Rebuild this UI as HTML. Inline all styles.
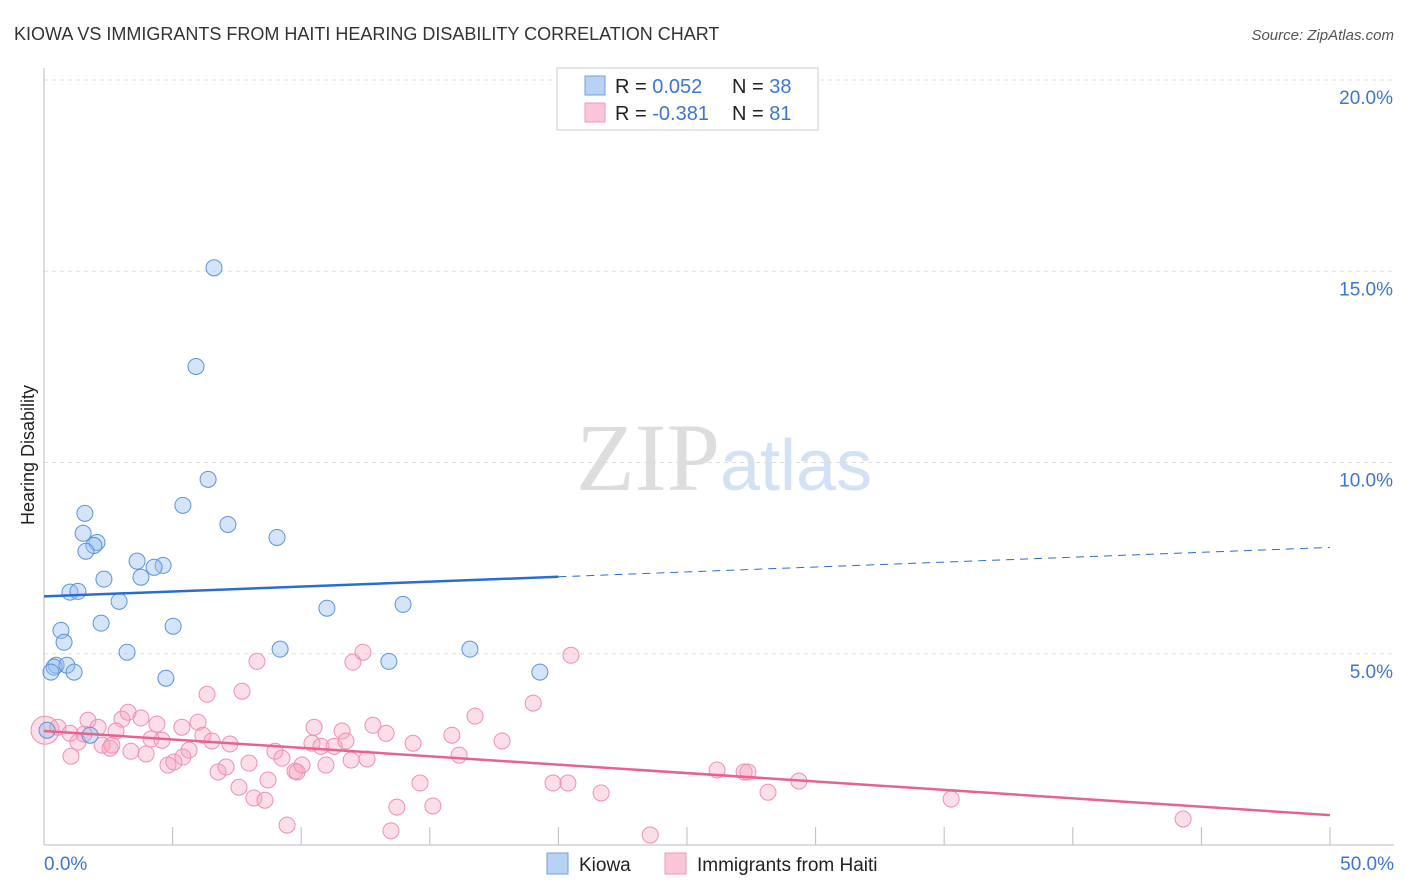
<!DOCTYPE html>
<html><head><meta charset="utf-8">
<style>
body{margin:0;background:#fff;font-family:"Liberation Sans",sans-serif;}
#wrap{position:relative;width:1406px;height:892px;overflow:hidden;}
</style></head>
<body>
<div id="wrap">
<svg id="chart" width="1406" height="892" style="position:absolute;left:0;top:0">
<text x="14" y="40" font-size="18" fill="#333">KIOWA VS IMMIGRANTS FROM HAITI HEARING DISABILITY CORRELATION CHART</text>
<text x="1394" y="40" font-size="15" fill="#555" font-style="italic" text-anchor="end">Source: ZipAtlas.com</text>
<text x="720" y="490" font-size="96" fill="#ddd" text-anchor="end" font-family="Liberation Serif">ZIP</text>
<text x="720" y="490" font-size="72" fill="#d3e1f5">atlas</text>
<text transform="translate(34,455) rotate(-90)" font-size="18" fill="#222" text-anchor="middle">Hearing Disability</text>
<g id="grid"></g><g id="axes"></g><g id="marks"></g>
<g>
<rect x="557" y="68" width="261" height="62" fill="#fff" stroke="#ccc"/>
<rect x="585" y="76" width="20" height="19" fill="#b7d2f3" stroke="#6f9fe0"/>
<rect x="585" y="103" width="20" height="19" fill="#f9c6d6" stroke="#ee9ab5"/>
<text x="615" y="93" font-size="20" fill="#222">R = <tspan fill="#3b76d6">0.052</tspan><tspan x="732">N = </tspan><tspan fill="#3b76d6">38</tspan></text>
<text x="615" y="120" font-size="20" fill="#222">R = <tspan fill="#3b76d6">-0.381</tspan><tspan x="732">N = </tspan><tspan fill="#3b76d6">81</tspan></text>
</g>
<g>
<rect x="547" y="853" width="21" height="21" fill="#b7d2f3" stroke="#6f9fe0"/>
<text x="579" y="871" font-size="19" fill="#222">Kiowa</text>
<rect x="665" y="853" width="21" height="21" fill="#f9c6d6" stroke="#ee9ab5"/>
<text x="697" y="871" font-size="19" fill="#222">Immigrants from Haiti</text>
</g>
</svg>
</div>
<script>
const yTicks=[5,10,15,20];
const yTickLabels=["5.0%","10.0%","15.0%","20.0%"];
const xTickLabels=["0.0%","50.0%"];
const kiowaX=[6.61,5.91,6.38,5.40,7.15,9.06,1.59,1.52,2.06,1.94,1.63,3.62,4.63,4.28,3.77,2.33,1.01,1.32,2.92,11.00,13.96,2.22,5.02,0.66,0.78,3.23,9.18,16.56,13.41,19.28,0.47,0.39,0.89,0.27,1.17,4.74,0.12,1.79];
const kiowaY=[15.09,12.51,9.56,8.88,8.38,8.04,8.67,8.15,7.91,7.83,7.68,7.42,7.31,7.26,7.00,6.95,6.61,6.63,6.37,6.19,6.29,5.80,5.72,5.61,5.30,5.04,5.12,5.12,4.80,4.52,4.70,4.65,4.70,4.52,4.52,4.36,3.00,2.87];
const haitiX=[0.04,0.54,1.01,1.71,2.10,1.05,1.56,1.32,2.26,2.57,2.64,3.03,3.27,2.80,3.38,3.77,3.97,4.16,4.39,4.59,4.82,5.05,5.40,5.36,5.64,5.99,6.18,6.53,6.34,6.77,7.08,7.23,7.70,7.58,7.97,8.28,8.16,8.59,8.71,8.98,9.25,9.45,9.76,9.84,10.03,10.42,10.50,10.77,10.96,11.28,11.59,11.74,11.94,12.01,12.40,12.56,12.79,13.30,13.49,13.72,14.35,14.62,15.12,15.86,16.14,16.76,17.81,19.02,19.79,20.37,20.49,21.66,23.57,26.17,27.22,27.37,28.15,29.35,35.27,44.29];
const haitiY=[3.00,3.08,2.92,3.26,3.08,2.32,2.90,2.69,2.61,2.53,2.61,3.29,3.47,2.98,2.45,3.32,2.38,2.77,3.16,2.74,2.09,2.17,2.30,3.08,2.48,3.21,2.87,2.72,3.94,1.91,2.04,2.64,4.02,1.51,2.14,4.80,1.23,1.17,1.70,2.45,2.27,0.52,1.93,1.91,2.09,2.66,3.08,2.58,2.09,2.58,2.98,2.72,2.22,4.78,5.04,2.25,3.13,2.92,0.37,0.99,2.66,1.62,1.02,2.87,2.35,3.37,2.72,3.71,1.62,1.62,4.96,1.36,0.26,1.96,1.91,1.91,1.38,1.67,1.20,0.68];
const kiowaTrend=[6.50,7.78];
const haitiTrend=[2.98,0.78];
const NS="http://www.w3.org/2000/svg";
const x0=44,x1=1330,yBase=845,yTop=80;
function sx(v){return x0+(x1-x0)*v/50;}
function sy(v){return yBase-(yBase-yTop)*v/20;}
function mk(tag,attrs,parent){const e=document.createElementNS(NS,tag);for(const k in attrs)e.setAttribute(k,attrs[k]);parent.appendChild(e);return e;}
const grid=document.getElementById('grid'),axes=document.getElementById('axes'),marks=document.getElementById('marks');
yTicks.forEach((t,i)=>{
 const l=mk('line',{x1:x0,x2:1394,y1:sy(t),y2:sy(t),stroke:'#ddd','stroke-dasharray':'4,4'},grid);
 
 
 const tx=mk('text',{x:1393,y:sy(t)+24,'font-size':19,fill:'#3b76d6','text-anchor':'end'},axes);
 tx.textContent=yTickLabels[i];
 
 
});
const ax=mk('line',{x1:x0,x2:x0,y1:68,y2:yBase,stroke:'#bbb'},axes);


const bx=mk('line',{x1:x0,x2:1394,y1:yBase,y2:yBase,stroke:'#bbb'},axes);


for(let k=1;k<=10;k++){
 const t=mk('line',{x1:sx(k*5),x2:sx(k*5),y1:827,y2:yBase,stroke:'#bbb'},axes);
 
 
}
[[0,'start',44],[50,'end',1394]].forEach((d,i)=>{
 const tx=mk('text',{x:d[2],y:870,'font-size':19,fill:'#3b76d6','text-anchor':d[1]},axes);
 tx.textContent=xTickLabels[i];
 
 
});
haitiX.forEach((v,i)=>{
 const c=mk('circle',{cx:sx(v),cy:sy(haitiY[i]),r:i===0?14:8,fill:'rgba(244,160,190,0.35)',stroke:'#f08fb0','stroke-width':1},marks);
 
 
});
kiowaX.forEach((v,i)=>{
 const c=mk('circle',{cx:sx(v),cy:sy(kiowaY[i]),r:8,fill:'rgba(150,190,240,0.4)',stroke:'#5b93dc','stroke-width':1},marks);
 
 
});
function ky(x){return kiowaTrend[0]+(kiowaTrend[1]-kiowaTrend[0])*x/50;}
const k1=mk('line',{x1:sx(0),y1:sy(ky(0)),x2:sx(20),y2:sy(ky(20)),stroke:'#2a6dd2','stroke-width':2.5},marks);


const k2=mk('line',{x1:sx(20),y1:sy(ky(20)),x2:sx(50),y2:sy(ky(50)),stroke:'#2a6dd2','stroke-width':1,'stroke-dasharray':'8,6'},marks);


const h1=mk('line',{x1:sx(0),y1:sy(haitiTrend[0]),x2:sx(50),y2:sy(haitiTrend[1]),stroke:'#e8628f','stroke-width':2.5},marks);


</script>
</body></html>
